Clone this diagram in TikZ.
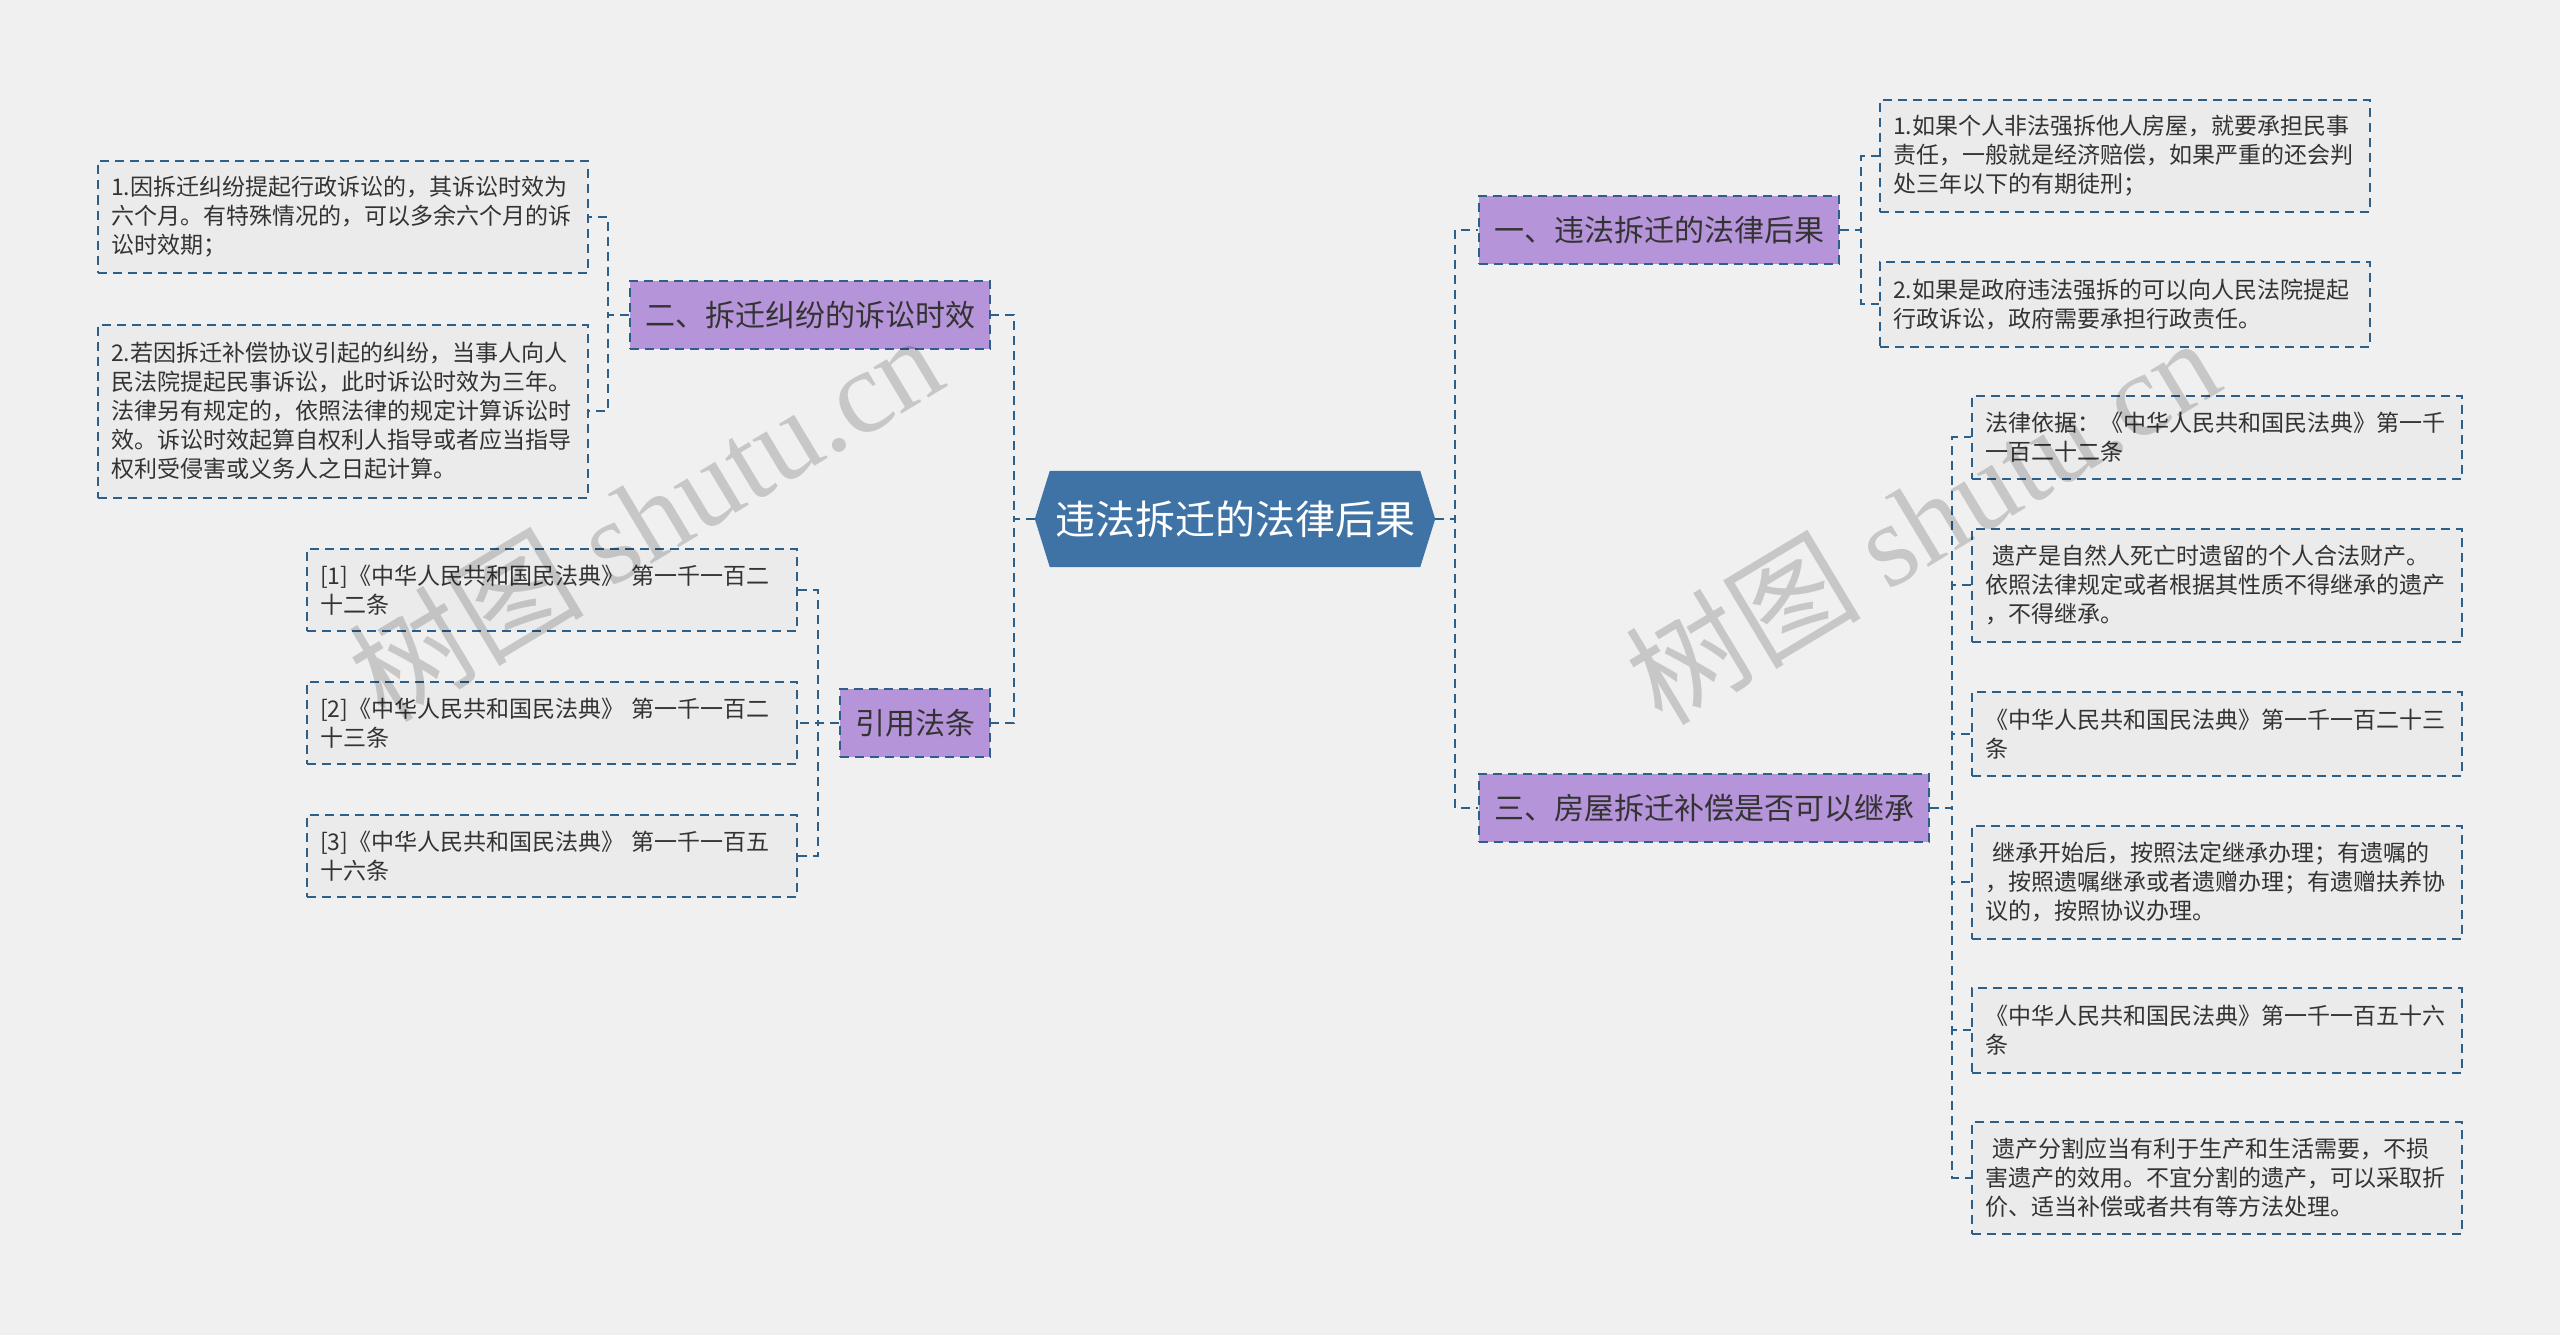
\documentclass[tikz,border=0pt]{standalone}
\usepackage{fontspec}
\setmainfont{Noto Sans CJK SC}
\newfontfamily\wmserif{Liberation Serif}
\usetikzlibrary{backgrounds}
\definecolor{bgc}{HTML}{F0F0F0}
\definecolor{rootc}{HTML}{3F73A5}
\definecolor{purc}{HTML}{B594D9}
\definecolor{leafc}{HTML}{EBEBEB}
\definecolor{linec}{HTML}{2D5F8B}
\definecolor{txtc}{HTML}{333333}
\begin{document}
\begin{tikzpicture}[x=1pt,y=-1pt,
 conn/.style={draw=linec,line width=2pt,dash pattern=on 9pt off 6pt},
 rootn/.style={minimum width=400pt,minimum height=96pt,inner sep=0pt,text=white,font=\fontsize{40pt}{48pt}\selectfont},
 purn/.style={fill=purc,draw=linec,line width=2pt,dash pattern=on 9pt off 6pt,minimum height=68pt,inner xsep=15pt,inner ysep=0pt,text=txtc,font=\fontsize{30pt}{36pt}\selectfont},
 leafn/.style={fill=leafc,draw=linec,line width=2pt,dash pattern=on 9pt off 6pt,text width=464pt,inner xsep=13pt,inner ysep=0pt,align=left,text=txtc,font=\fontsize{23pt}{29pt}\selectfont},
 wm/.style={text=black,opacity=0.17,rotate=31,font=\fontsize{118pt}{118pt}\selectfont}
]
\useasboundingbox (0,0) rectangle (2560,1335);
\begin{scope}[on background layer]
\fill[bgc] (0,0) rectangle (2560,1335);
\end{scope}

% root
\node[rootn] (root) at (1235,519) {违法拆迁的法律后果};
\begin{scope}[on background layer]
\fill[rootc] (root.west) -- ([xshift=15pt]root.north west) -- ([xshift=-15pt]root.north east) -- (root.east) -- ([xshift=-15pt]root.south east) -- ([xshift=15pt]root.south west) -- cycle;
\end{scope}

% level 1
\node[purn,anchor=east] (p2) at (991,315) {二、拆迁纠纷的诉讼时效};
\node[purn,anchor=east] (pref) at (991,723) {引用法条};
\node[purn,anchor=west] (r1) at (1478,230) {一、违法拆迁的法律后果};
\node[purn,anchor=west] (r3) at (1478,808) {三、房屋拆迁补偿是否可以继承};

% left leaves
\node[leafn,minimum height=111pt,anchor=east] (l1) at (589,217) {1.因拆迁纠纷提起行政诉讼的，其诉讼时效为\\六个月。有特殊情况的，可以多余六个月的诉\\讼时效期；};
\node[leafn,minimum height=173pt,anchor=east] (l2) at (589,411) {2.若因拆迁补偿协议引起的纠纷，当事人向人\\民法院提起民事诉讼，此时诉讼时效为三年。\\法律另有规定的，依照法律的规定计算诉讼时\\效。诉讼时效起算自权利人指导或者应当指导\\权利受侵害或义务人之日起计算。};

\node[leafn,minimum height=82pt,anchor=east] (ref1) at (798,590) {[1]《中华人民共和国民法典》 第一千一百二\\十二条};
\node[leafn,minimum height=82pt,anchor=east] (ref2) at (798,723) {[2]《中华人民共和国民法典》 第一千一百二\\十三条};
\node[leafn,minimum height=82pt,anchor=east] (ref3) at (798,856) {[3]《中华人民共和国民法典》 第一千一百五\\十六条};

% right leaves
\node[leafn,minimum height=112pt,anchor=west] (r1a) at (1879,156) {1.如果个人非法强拆他人房屋，就要承担民事\\责任，一般就是经济赔偿，如果严重的还会判\\处三年以下的有期徒刑；};
\node[leafn,minimum height=85pt,anchor=west] (r1b) at (1879,304) {2.如果是政府违法强拆的可以向人民法院提起\\行政诉讼，政府需要承担行政责任。};

\node[leafn,minimum height=83pt,anchor=west] (r3a) at (1971,437) {法律依据：《中华人民共和国民法典》第一千\\一百二十二条};
\node[leafn,minimum height=113pt,anchor=west] (r3b) at (1971,585) {\hspace*{7pt}遗产是自然人死亡时遗留的个人合法财产。\\依照法律规定或者根据其性质不得继承的遗产\\，不得继承。};
\node[leafn,minimum height=84pt,anchor=west] (r3c) at (1971,734) {《中华人民共和国民法典》第一千一百二十三\\条};
\node[leafn,minimum height=113pt,anchor=west] (r3d) at (1971,882) {\hspace*{7pt}继承开始后，按照法定继承办理；有遗嘱的\\，按照遗嘱继承或者遗赠办理；有遗赠扶养协\\议的，按照协议办理。};
\node[leafn,minimum height=85pt,anchor=west] (r3e) at (1971,1030) {《中华人民共和国民法典》第一千一百五十六\\条};
\node[leafn,minimum height=112pt,anchor=west] (r3f) at (1971,1178) {\hspace*{7pt}遗产分割应当有利于生产和生活需要，不损\\害遗产的效用。不宜分割的遗产，可以采取折\\价、适当补偿或者共有等方法处理。};

% connectors
\draw[conn] (root.west) -- ++(-21,0) |- (p2.east);
\draw[conn] (root.west) -- ++(-21,0) |- (pref.east);
\draw[conn] (root.east) -- ++(20,0) |- (r1.west);
\draw[conn] (root.east) -- ++(20,0) |- (r3.west);

\draw[conn] (p2.west) -- ++(-21,0) |- (l1.east);
\draw[conn] (p2.west) -- ++(-21,0) |- (l2.east);

\draw[conn] (pref.west) -- ++(-21,0) |- (ref1.east);
\draw[conn] (pref.west) -- ++(-21,0) |- (ref2.east);
\draw[conn] (pref.west) -- ++(-21,0) |- (ref3.east);

\draw[conn] (r1.east) -- ++(21,0) |- (r1a.west);
\draw[conn] (r1.east) -- ++(21,0) |- (r1b.west);

\foreach \n in {r3a,r3b,r3c,r3d,r3e,r3f}
  \draw[conn] (r3.east) -- ++(22,0) |- (\n.west);

% watermarks
\node[wm] (wm1) at (645,516) {树图 {\wmserif shutu.cn}};
\node[wm] (wm2) at (1922,519) {树图 {\wmserif shutu.cn}};
\end{tikzpicture}
\end{document}
